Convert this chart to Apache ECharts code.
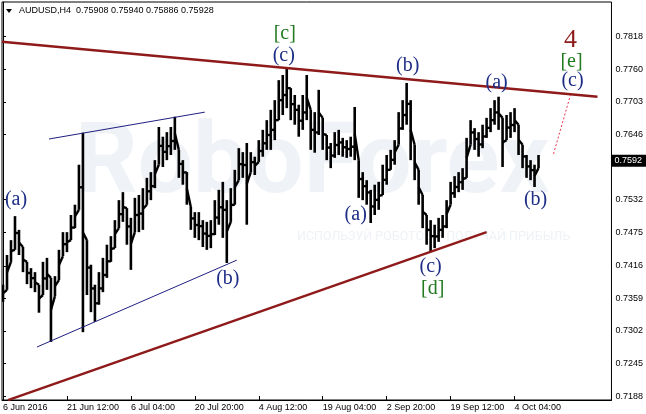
<!DOCTYPE html>
<html><head><meta charset="utf-8">
<script src="https://cdn.jsdelivr.net/npm/echarts@6/dist/echarts.min.js"></script>
<style>html,body{margin:0;padding:0;background:#fff}#c{width:646px;height:414px}</style>
</head><body><div id="c"></div>
<script>
// ---- data (AUDUSD H4, each entry groups ~4 H4 bars) ----
const barHigh = [0.7383,0.7435,0.7461,0.7503,0.7479,0.7449,0.7423,0.7412,0.7405,0.7383,
0.7423,0.7430,0.7395,0.7398,0.7444,0.7475,0.7475,0.7505,0.7523,0.7593,
0.7649,0.7461,0.7418,0.7383,0.7405,0.7430,0.7453,0.7468,0.7496,0.7531,
0.7545,0.7517,0.7500,0.7535,0.7540,0.7552,0.7570,0.7580,0.7601,0.7659,
0.7642,0.7650,0.7659,0.7677,0.7619,0.7601,0.7580,0.7519,0.7510,0.7510,
0.7496,0.7493,0.7496,0.7531,0.7549,0.7563,0.7531,0.7552,0.7584,0.7622,
0.7615,0.7631,0.7615,0.7607,0.7636,0.7654,0.7671,0.7689,0.7706,0.7741,
0.7750,0.7762,0.7727,0.7715,0.7698,0.7715,0.7750,0.7689,0.7685,0.7724,
0.7675,0.7645,0.7631,0.7650,0.7654,0.7640,0.7636,0.7642,0.7694,0.7601,
0.7580,0.7566,0.7549,0.7558,0.7563,0.7593,0.7610,0.7619,0.7636,0.7685,
0.7706,0.7736,0.7706,0.7628,0.7584,0.7540,0.7505,0.7496,0.7488,0.7500,
0.7505,0.7531,0.7563,0.7573,0.7580,0.7587,0.7640,0.7671,0.7657,0.7650,
0.7663,0.7675,0.7692,0.7706,0.7712,0.7675,0.7680,0.7685,0.7692,0.7663,
0.7628,0.7610,0.7601,0.7593,0.7610];
const barLow = [0.7353,0.7374,0.7423,0.7444,0.7435,0.7405,0.7384,0.7377,0.7370,0.7334,
0.7365,0.7374,0.7283,0.7363,0.7391,0.7433,0.7440,0.7461,0.7482,0.7514,
0.7300,0.7365,0.7335,0.7318,0.7348,0.7370,0.7395,0.7423,0.7447,0.7482,
0.7493,0.7453,0.7409,0.7475,0.7475,0.7479,0.7523,0.7531,0.7552,0.7593,
0.7589,0.7601,0.7610,0.7619,0.7570,0.7558,0.7523,0.7479,0.7465,0.7461,
0.7449,0.7444,0.7447,0.7470,0.7488,0.7465,0.7421,0.7493,0.7523,0.7566,
0.7570,0.7488,0.7580,0.7575,0.7598,0.7607,0.7619,0.7619,0.7636,0.7671,
0.7680,0.7692,0.7671,0.7663,0.7642,0.7654,0.7671,0.7619,0.7614,0.7645,
0.7619,0.7601,0.7587,0.7605,0.7610,0.7607,0.7605,0.7607,0.7601,0.7535,
0.7531,0.7523,0.7491,0.7505,0.7514,0.7540,0.7558,0.7584,0.7593,0.7628,
0.7654,0.7663,0.7601,0.7566,0.7523,0.7482,0.7453,0.7440,0.7447,0.7458,
0.7465,0.7482,0.7523,0.7535,0.7545,0.7549,0.7570,0.7628,0.7619,0.7607,
0.7622,0.7640,0.7650,0.7663,0.7654,0.7589,0.7636,0.7640,0.7650,0.7610,
0.7587,0.7570,0.7566,0.7554,0.7587];

const xTickIdx = [0,16,32,48,64,80,96,112,128];
const xTickLabels = ['6 Jun 2016','21 Jun 12:00','6 Jul 04:00','20 Jul 20:00','4 Aug 12:00','19 Aug 04:00','2 Sep 20:00','19 Sep 12:00','4 Oct 04:00'];
const yTickLabels = ['0.7188','0.7245','0.7302','0.7359','0.7416','0.7475','0.7532','0.7646','0.7703','0.7760','0.7818'];
const symbolName = 'AUDUSD,H4';
const lastQuote = ['0.75908','0.75940','0.75886','0.75928'];
const currentPrice = 0.75928;
const currentPriceLabel = '0.7592';

const upperTrend = [[-0.25, 0.7808], [148.75, 0.7712]];
const lowerTrend = [[1.25, 0.7181], [121, 0.7475]];
const channelTop = [[11.5, 0.7638], [50.5, 0.7685]];
const channelBottom = [[8.5, 0.7274], [58.5, 0.7426]];
const projection = [[137.75, 0.7612], [142, 0.7715]];

const waveText  = ['(a)','(b)','[c]','(c)','(a)','(b)','(c)','[d]','(a)','(b)','4','[e]','(c)'];
const waveIdx   = [3.25, 56.25, 70.5, 70.25, 88.25, 101.25, 107, 107.5, 123.5, 133.25, 142, 142.25, 142.5];
const wavePrice = [0.7531, 0.7393, 0.7823, 0.7783, 0.7505, 0.7766, 0.7414, 0.7376, 0.7736, 0.7531, 0.7811, 0.7774, 0.7740];
const waveDegree= ['m','m','i','m','m','m','m','i','m','m','p','i','m'];

// ---- styles ----
const degreeStyle = {
  m: {color:'#1e2d86', size:20},
  i: {color:'#217a1f', size:20},
  p: {color:'#8e1a1a', size:26}
};
const axisFont = "'Liberation Sans', Arial, sans-serif";

const chart = echarts.init(document.getElementById('c'), null, {renderer:'canvas'});

const bars = barHigh.map((h, i) => [i, h, barLow[i]]);
const waves = waveText.map((t, i) => [waveIdx[i], wavePrice[i], i]);

function lineSeries(data, color, width, type) {
  return {type:'line', data, symbol:'none', silent:true, animation:false,
    lineStyle:{color, width, type: type || 'solid'}, z:3};
}

chart.setOption({
  animation:false,
  backgroundColor:'#ffffff',
  grid:{left:2, top:2, right:34, bottom:14, show:true, borderColor:'#000', borderWidth:1, backgroundColor:'transparent'},
  graphic:[
    {type:'text', left:75, top:118, z:-10, silent:true,
      style:{text:'RoboForex', font:"bold 98px Roboto, 'Liberation Sans', sans-serif", fill:'#eff2f6'}},
    {type:'text', left:297, top:230, z:-10, silent:true,
      style:{text:'ИСПОЛЬЗУЙ РОБОТОВ – ПОЛУЧАЙ ПРИБЫЛЬ', font:"12.5px Roboto, 'Liberation Sans', sans-serif", fill:'#eff2f6'}},
    {type:'polygon', z:10, shape:{points:[[6,9],[12,9],[9,13]]}, style:{fill:'#000'}},
    {type:'text', left:19, top:6, z:10,
      style:{text: symbolName + '  ' + lastQuote.join(' '), font:"9px " + axisFont, fill:'#000'}}
  ],
  xAxis:{
    type:'value', min:-0.25, max:152.25,
    axisLine:{show:true, lineStyle:{color:'#000', width:1}},
    axisTick:{show:true, inside:true, length:4, lineStyle:{color:'#000'}, customValues:xTickIdx},
    axisLabel:{show:true, customValues:xTickIdx, align:'left', margin:3, color:'#000', fontSize:9, fontFamily:axisFont,
      formatter: v => xTickLabels[xTickIdx.indexOf(Math.round(v))] || ''},
    splitLine:{show:false}
  },
  yAxis:{
    type:'value', position:'right', min:0.718125, max:0.787775, scale:true,
    axisLine:{show:true, lineStyle:{color:'#000', width:1}},
    axisTick:{show:true, inside:false, length:3, lineStyle:{color:'#000'}, customValues:yTickLabels.map(Number)},
    axisLabel:{show:true, customValues:yTickLabels.map(Number), margin:4, color:'#000', fontSize:9, fontFamily:axisFont,
      formatter: v => v.toFixed(4)},
    splitLine:{show:false}
  },
  series:[
    {
      type:'custom', data:bars, clip:true, z:2, silent:true,
      encode:{x:0, y:[1,2]},
      renderItem:(params, api) => {
        const i = api.value(0);
        const top = api.coord([i, api.value(1)]);
        const bot = api.coord([i, api.value(2)]);
        const children = [{type:'rect', shape:{x:top[0]-1.3, y:top[1], width:2.6, height:Math.max(1, bot[1]-top[1])},
          style:{fill:'#000'}}];
        if (i + 1 < bars.length) {
          const midA = api.coord([i, (api.value(1) + api.value(2)) / 2]);
          const nt = api.coord([i + 1, bars[i + 1][1]]);
          const nb = api.coord([i + 1, bars[i + 1][2]]);
          const yA = Math.min(Math.max(midA[1], nt[1]), nb[1]);
          children.push({type:'line', shape:{x1:top[0], y1:(top[1] + bot[1]) / 2, x2:nt[0], y2:yA},
            style:{stroke:'#000', lineWidth:2.4}});
        }
        return {type:'group', children};
      }
    },
    {
      type:'line', data:[], silent:true,
      markLine:{
        silent:true, symbol:'none',
        lineStyle:{color:'transparent', width:0},
        label:{show:true, position:'end', distance:0, formatter: () => currentPriceLabel,
          color:'#fff', backgroundColor:'#000', padding:[2,4,1,3], fontSize:9, fontFamily:axisFont},
        data:[{yAxis:currentPrice}]
      }
    },
    lineSeries(upperTrend, '#8e1a1a', 2.5),
    lineSeries(lowerTrend, '#8e1a1a', 2.5),
    lineSeries(channelTop, '#1f1f80', 1),
    lineSeries(channelBottom, '#1f1f80', 1),
    lineSeries(projection, '#e8334f', 1, [2,2]),
    {
      type:'custom', data:waves, clip:false, z:5, silent:true,
      encode:{x:0, y:1},
      renderItem:(params, api) => {
        const p = api.coord([api.value(0), api.value(1)]);
        const k = api.value(2);
        const st = degreeStyle[waveDegree[k]];
        return {type:'text', x:p[0], y:p[1],
          style:{text:waveText[k], fill:st.color, font: st.size + "px 'Liberation Serif', 'Times New Roman', serif",
            align:'center', verticalAlign:'middle'}};
      }
    }
  ]
});
</script>
</body></html>
